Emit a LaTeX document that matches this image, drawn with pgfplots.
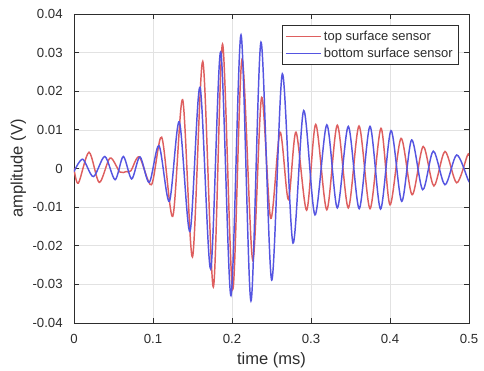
\documentclass[border=0pt]{standalone}
\usepackage{pgfplots}
\pgfplotsset{compat=1.18}
\usepackage{fontspec}
\setmainfont{Liberation Sans}
\definecolor{mred}{RGB}{222,95,95}
\definecolor{mblue}{RGB}{85,85,225}
\definecolor{axgray}{RGB}{45,45,45}
\definecolor{gridgray}{RGB}{226,226,226}
\begin{document}
\begin{tikzpicture}
\begin{axis}[
  name=ax,
  scale only axis, width=296.25pt, height=231.75pt,
  xmin=0, xmax=0.5, ymin=-0.04, ymax=0.04,
  xtick={0,0.1,0.2,0.3,0.4,0.5},
  ytick={-0.04,-0.03,-0.02,-0.01,0,0.01,0.02,0.03,0.04},
  scaled ticks=false,
  /pgf/number format/assume math mode=true,
  tick label style={font=\fontsize{9.9}{11}\selectfont, text=axgray},
  xticklabel style={/pgf/number format/fixed, /pgf/number format/precision=1, yshift=-5pt},
  yticklabel style={/pgf/number format/fixed, /pgf/number format/precision=2, xshift=-5pt},
  grid=major, major grid style={gridgray, line width=0.5pt},
  axis line style={axgray, line width=0.6pt},
  tick style={axgray, line width=0.6pt},
  tick align=inside, major tick length=3.5pt,
  xlabel={time (ms)}, ylabel={amplitude (V)},
  label style={font=\fontsize{12.4}{14}\selectfont, text=axgray},
  ylabel style={yshift=-2pt},
  legend style={at={(0.973,0.964)}, anchor=north east, draw=axgray, line width=0.6pt,
    font=\fontsize{9.75}{12}\selectfont, text=axgray, row sep=0pt, inner sep=2pt},
  legend cell align=left,
  legend image code/.code={\draw[#1, line width=1.1pt] (0pt,0pt) -- (26pt,0pt);},
]
\addplot[mred, line width=1.1pt, smooth] coordinates {
(0.000,0.0000) (0.0055,-0.0038) (0.019,0.0042) (0.032,-0.0036) (0.0456,0.0027)
(0.058,-0.0009) (0.066,-0.0008) (0.072,-0.0006) (0.0827,0.0030) (0.098,-0.0042)
(0.111,0.0081) (0.125,-0.0124) (0.1375,0.0178) (0.150,-0.0229) (0.163,0.0277)
(0.1764,-0.0307) (0.188,0.0322) (0.2009,-0.0313) (0.2127,0.0283) (0.2262,-0.0237)
(0.2375,0.0184) (0.249,-0.0129) (0.2608,0.0094) (0.2713,-0.0080) (0.281,0.0094)
(0.2945,-0.0108) (0.306,0.0114) (0.320,-0.0107) (0.3333,0.0112) (0.3472,-0.0102)
(0.3608,0.0110) (0.3747,-0.0104) (0.3886,0.0104) (0.400,-0.0094) (0.414,0.0078)
(0.428,-0.0068) (0.442,0.0057) (0.4555,-0.0045) (0.4696,0.0044) (0.4844,-0.0037)
(0.498,0.0034) (0.500,0.0033)
};
\addlegendentry{top surface sensor}
\addplot[mblue, line width=1.1pt, smooth] coordinates {
(0.000,-0.0008) (0.011,0.0024) (0.0245,-0.0021) (0.039,0.0031) (0.052,-0.0029)
(0.0624,0.0031) (0.073,-0.0027) (0.0835,0.0030) (0.0953,-0.0036) (0.1076,0.0059)
(0.1207,-0.0085) (0.1333,0.0121) (0.1468,-0.0163) (0.1595,0.0210) (0.173,-0.0260)
(0.1857,0.0302) (0.1987,-0.0329) (0.2114,0.0346) (0.224,-0.0343) (0.2367,0.0327)
(0.2502,-0.0289) (0.2637,0.0245) (0.2772,-0.0193) (0.2907,0.0150) (0.305,-0.0120)
(0.320,0.0113) (0.3333,-0.0102) (0.3472,0.0109) (0.361,-0.0104) (0.3747,0.0109)
(0.388,-0.0105) (0.4013,0.0098) (0.4148,-0.0085) (0.4274,0.0074) (0.4414,-0.0055)
(0.4548,0.0045) (0.4696,-0.0042) (0.4844,0.0035) (0.499,-0.0030) (0.500,-0.0030)
};
\addlegendentry{bottom surface sensor}
\end{axis}
\pgfresetboundingbox
\path ([xshift=-55.5pt,yshift=-36pt]ax.south west) rectangle ([xshift=11.25pt,yshift=10.5pt]ax.north east);
\end{tikzpicture}
\end{document}
